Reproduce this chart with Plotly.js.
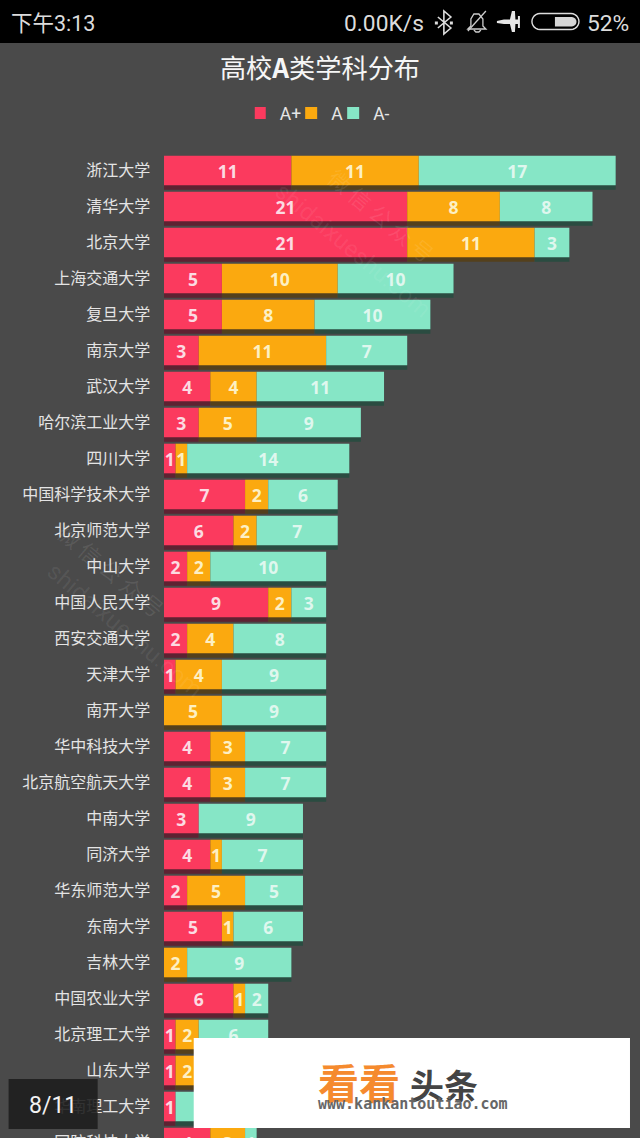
<!DOCTYPE html>
<html>
<head>
<meta charset="utf-8">
<script src="https://cdn.plot.ly/plotly-3.0.1.min.js"></script>
<style>
html,body{margin:0;padding:0;width:640px;height:1138px;overflow:hidden;background:#4a4a4a}
#chart{width:640px;height:1170px}
</style>
</head>
<body>
<div id="chart"></div>
<script>
var universities = ["浙江大学","清华大学","北京大学","上海交通大学","复旦大学","南京大学","武汉大学","哈尔滨工业大学","四川大学","中国科学技术大学","北京师范大学","中山大学","中国人民大学","西安交通大学","天津大学","南开大学","华中科技大学","北京航空航天大学","中南大学","同济大学","华东师范大学","东南大学","吉林大学","中国农业大学","北京理工大学","山东大学","华南理工大学","国防科技大学"];
var aPlus  = [11,21,21,5,5,3,4,3,1,7,6,2,9,2,1,0,4,4,3,4,2,5,0,6,1,1,1,4];
var aMid   = [11,8,11,10,8,11,4,5,1,2,2,2,2,4,4,5,3,3,0,1,5,1,2,1,2,2,0,3];
var aMinus = [17,8,3,10,10,7,11,9,14,6,7,10,3,8,9,9,7,7,9,7,5,6,9,2,6,6,8,1];
var seriesNames = ["A+","A","A-"];
var seriesColors = ["#fb3a5e","#fba90f","#86e6c6"];
var shadowColors = ["#5e2232","#54401c","#2a4c41"];
var labelColors = ["#fbdbe2","#fdf0c4","#dff7ee"];

var W=640,H=1170,L=164.3,T=135;
var rowFirst=170.5,rowStep=36,unit=11.574;
function px(x){return (x-L)/(W-L);}
function py(y){return 1-(y-T)/(H-T);}
function rect(x0,y0,x1,y1,fill){return {type:"rect",xref:"paper",yref:"paper",x0:px(x0),x1:px(x1),y0:py(y0),y1:py(y1),fillcolor:fill,line:{width:0},layer:"above"};}
function note(x,y,text,size,color,anchor,family,extra){
  var a={xref:"paper",yref:"paper",x:px(x),y:py(y),text:text,showarrow:false,xanchor:anchor||"left",yanchor:"middle",font:{size:size,color:color,family:family||"Roboto, 'Noto Sans CJK SC', sans-serif"}};
  if(extra){for(var k in extra){a[k]=extra[k];}}
  return a;
}
function path(pts,close){
  var s="";
  for(var i=0;i<pts.length;i++){s+=(i?"L":"M")+px(pts[i][0])+","+py(pts[i][1]);}
  return s+(close?"Z":"");
}
function icon(pts,close,fill,lineColor,w){return {type:"path",xref:"paper",yref:"paper",path:path(pts,close),fillcolor:fill||"rgba(0,0,0,0)",line:{color:lineColor||"rgba(0,0,0,0)",width:w||0},layer:"above"};}
function pill(x0,y0,x1,y1,leftRound,rightRound){
  var r=(y1-y0)/2,cy=(y0+y1)/2,pts=[],a;
  for(a=-90;a<=90;a+=15){
    var rx=rightRound?r:0.01;
    pts.push([x1-r+rx*Math.cos(a*Math.PI/180)+(rightRound?0:r-0.01),cy+r*Math.sin(a*Math.PI/180)]);
  }
  for(a=90;a<=270;a+=15){
    var lx=leftRound?r:0.01;
    pts.push([x0+r+lx*Math.cos(a*Math.PI/180)-(leftRound?0:r-0.01),cy+r*Math.sin(a*Math.PI/180)]);
  }
  return pts;
}

var series=[aPlus,aMid,aMinus];
var bases=series.map(function(){return [];});
universities.forEach(function(u,i){
  var c=0;
  series.forEach(function(s,k){bases[k].push(c);c+=s[i];});
});
var barW=29.6/rowStep;
var traces=[];
series.forEach(function(s,k){
  traces.push({type:"bar",orientation:"h",y:universities,x:s,base:bases[k],width:barW,offset:-barW/2+0.125,
    marker:{color:shadowColors[k],line:{width:0}},showlegend:false,hoverinfo:"skip"});
});
series.forEach(function(s,k){
  traces.push({type:"bar",orientation:"h",name:seriesNames[k],y:universities,x:s,base:bases[k],width:barW,offset:-barW/2,
    marker:{color:seriesColors[k],line:{width:0}},
    text:s.map(function(v){return v?String(v):"";}),textposition:"inside",insidetextanchor:"middle",textangle:0,constraintext:"none",
    textfont:{size:17.5,color:labelColors[k],family:"'Noto Sans', 'Open Sans', sans-serif",weight:700}});
});

var shapes=[
  rect(0,0,640,43,"#000000"),
  rect(194,1038,630,1128,"#ffffff"),
  rect(9,1079,98,1129,"rgba(30,30,30,0.9)"),
  // bluetooth
  icon([[438,17],[451,28],[444,34],[444,11],[451,17],[438,28]],false,null,"#dddddd",1.6),
  rect(435,21.5,438,24.5,"#dddddd"),
  rect(450,21.5,453,24.5,"#dddddd"),
  // bell
  icon([[468,29],[471,26],[471,19],[474,14],[479,14],[483,19],[483,26],[486,29]],true,null,"#cccccc",1.3),
  icon([[474,30],[476,32],[479,32],[481,30]],false,null,"#cccccc",1.3),
  icon([[468,31],[486,11]],false,null,"#cccccc",1.3),
  // plane
  icon([[497,21],[504,19.5],[510,19.5],[512,11],[515,11],[515.5,19.5],[518,19.5],[518,16],[520,16],[520,28],[518,28],[518,24],[515.5,24],[515,32],[512,32],[510,24],[504,24],[497,23]],true,"#e6e6e6"),
  // battery
  icon(pill(532,13.5,579,29.5,true,true),true,null,"#dddddd",1.4),
  icon(pill(555,17,576.5,26.5,false,true),true,"#d6d6d6")
];

var annotations=[
  note(9,23,"下午3:13",21.5,"#dcdcdc"),
  note(342,23,"0.00K/s",22.8,"#dcdcdc"),
  note(585,23,"52%",22.8,"#dcdcdc"),
  note(53,1105,"8/11",23,"#f2f2f2","center"),
  note(316,1080.5,"<b>看看</b>",41,"#f58a2e","left","'Noto Sans CJK SC', sans-serif"),
  note(408,1084,"<b>头条</b>",34,"#444444","left","'Noto Sans CJK SC', sans-serif"),
  note(316,1104,"<b>www.kankantoutiao.com</b>",15,"#666666","left","'DejaVu Sans Mono', monospace"),
  note(382,215,"微 信 公 众 号",22,"rgba(255,255,255,0.09)","center","'Noto Sans CJK SC', sans-serif",{textangle:40}),
  note(353,250,"shidaixueshu.com",24,"rgba(255,255,255,0.07)","center",null,{textangle:40}),
  note(112,570,"微 信 公 众 号",22,"rgba(255,255,255,0.09)","center","'Noto Sans CJK SC', sans-serif",{textangle:40}),
  note(125,630,"shidaixueshu.com",24,"rgba(255,255,255,0.07)","center",null,{textangle:40})
];

var layout={
  width:W,height:H,
  paper_bgcolor:"#4a4a4a",plot_bgcolor:"#4a4a4a",
  barmode:"overlay",
  margin:{l:L,r:0,t:T,b:0,autoexpand:false},
  title:{text:"高校<b>A</b>类学科分布",x:0.5,xanchor:"center",xref:"container",y:1-69/H,yanchor:"middle",
    font:{size:26.2,color:"#f6f6f6",family:"'Noto Sans CJK SC', sans-serif"}},
  xaxis:{range:[0,(W-L)/unit],visible:false,fixedrange:true},
  yaxis:{type:"category",categoryorder:"array",categoryarray:universities,
    range:[(H-rowFirst)/rowStep,-(rowFirst-T)/rowStep],
    showgrid:false,zeroline:false,showline:false,ticks:"outside",ticklen:9.5,tickcolor:"rgba(0,0,0,0)",
    tickmode:"array",tickvals:universities,ticktext:universities,
    tickfont:{size:16,color:"#e4e4e4",family:"'Noto Sans CJK SC', sans-serif"},fixedrange:true},
  legend:{orientation:"h",x:px(255),xanchor:"left",y:py(113),yanchor:"middle",indentation:-15,itemwidth:30,
    font:{size:17.5,color:"#e6e6e6",family:"Roboto, sans-serif"},bgcolor:"rgba(0,0,0,0)",traceorder:"normal",itemclick:false,itemdoubleclick:false},
  shapes:shapes,annotations:annotations,
  showlegend:true
};
Plotly.newPlot("chart",traces,layout,{displayModeBar:false,staticPlot:true});
</script>
</body>
</html>
